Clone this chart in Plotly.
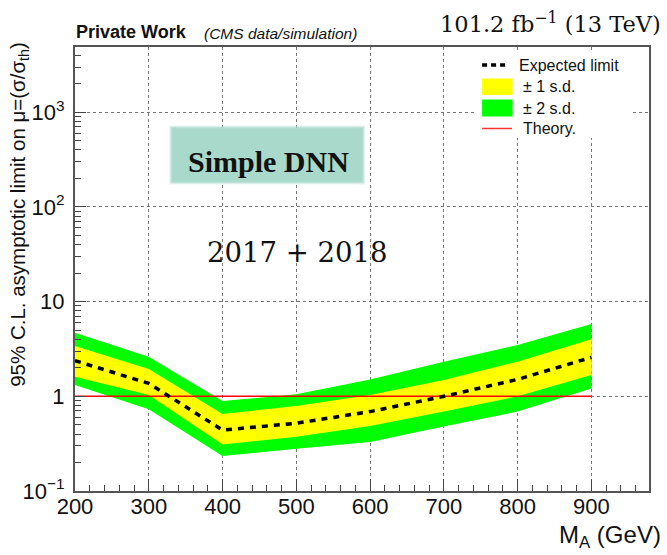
import plotly.graph_objects as go

# Mass points (GeV) and expected limits on mu with +/-1 and +/-2 s.d. bands
mass = [200, 300, 400, 500, 600, 700, 800, 900]
expected = [2.38, 1.37, 0.44, 0.52, 0.69, 1.00, 1.51, 2.58]
plus1 = [3.40, 1.94, 0.65, 0.79, 1.03, 1.49, 2.32, 4.00]
minus1 = [1.61, 1.03, 0.31, 0.375, 0.485, 0.69, 1.00, 1.68]
plus2 = [4.70, 2.62, 0.89, 1.05, 1.51, 2.32, 3.48, 5.80]
minus2 = [1.32, 0.73, 0.234, 0.28, 0.33, 0.48, 0.69, 1.21]
theory = [1.0] * len(mass)

x_ticks = [200, 300, 400, 500, 600, 700, 800, 900]
y_ticks = [0.1, 1, 10, 100, 1000]
y_ticktext = ["10<sup>\u22121</sup>", "1", "10", "10<sup>2</sup>", "10<sup>3</sup>"]
y_minor = [m * 10.0 ** e for e in range(-1, 4) for m in range(2, 10)]

W, H = 667, 555
L, R, T, B = 74.7, 649.0, 47.0, 491.0


def px(x):
    return (x - L) / (R - L)


def py(y):
    return (B - y) / (B - T)


fig = go.Figure()

# +/-2 s.d. band
fig.add_trace(go.Scatter(
    x=mass + mass[::-1], y=plus2 + minus2[::-1], fill="toself",
    fillcolor="#00ff00", line=dict(width=0), mode="lines",
    hoverinfo="skip", showlegend=False))
# +/-1 s.d. band
fig.add_trace(go.Scatter(
    x=mass + mass[::-1], y=plus1 + minus1[::-1], fill="toself",
    fillcolor="#ffff00", line=dict(width=0), mode="lines",
    hoverinfo="skip", showlegend=False))
# Theory reference line
fig.add_trace(go.Scatter(
    x=mass, y=theory, mode="lines", line=dict(color="#ff0000", width=1.5),
    showlegend=False))
# Expected limit
fig.add_trace(go.Scatter(
    x=mass, y=expected, mode="lines",
    line=dict(color="black", width=3.5, dash="6px,6px"),
    showlegend=False))

axis_font = dict(family="Liberation Sans, Arial, sans-serif", size=22, color="#111")

fig.update_xaxes(
    range=[200, 978], tickvals=x_ticks, ticks="inside", ticklen=12,
    tickwidth=1.2, tickcolor="#444", showline=True, linecolor="#555",
    linewidth=2, mirror=True, showgrid=True, gridcolor="#777",
    griddash="dot", gridwidth=1, zeroline=False, tickfont=axis_font,
    ticklabelstandoff=-5,
    minor=dict(ticks="inside", ticklen=6, dtick=20, tickcolor="#444",
               showgrid=False),
)
fig.update_yaxes(
    type="log", range=[-1, 3.69], tickvals=y_ticks, ticktext=y_ticktext,
    ticks="inside", ticklen=11, tickwidth=1.2, tickcolor="#444",
    showline=True, linecolor="#555", linewidth=2, mirror=True,
    showgrid=True, gridcolor="#777", griddash="dot", gridwidth=1,
    zeroline=False, tickfont=axis_font, ticklabelstandoff=4,
    minor=dict(ticks="inside", ticklen=6, tickvals=y_minor,
               tickcolor="#444", showgrid=False),
)

shapes = []
annotations = []

# Legend box
shapes.append(dict(type="rect", xref="paper", yref="paper",
                   x0=px(475), x1=px(632), y0=py(138), y1=py(53),
                   fillcolor="white", line=dict(width=0), layer="above"))
shapes.append(dict(type="line", xref="paper", yref="paper",
                   x0=px(482), x1=px(508), y0=py(65), y1=py(65),
                   line=dict(color="black", width=3.5, dash="5px,4px"),
                   layer="above"))
shapes.append(dict(type="rect", xref="paper", yref="paper",
                   x0=px(482), x1=px(512.5), y0=py(95), y1=py(78.5),
                   fillcolor="#ffff00", line=dict(width=0), layer="above"))
shapes.append(dict(type="rect", xref="paper", yref="paper",
                   x0=px(482), x1=px(512.5), y0=py(116.5), y1=py(99.5),
                   fillcolor="#00ff00", line=dict(width=0), layer="above"))
shapes.append(dict(type="line", xref="paper", yref="paper",
                   x0=px(482), x1=px(512), y0=py(128.5), y1=py(128.5),
                   line=dict(color="#ff3333", width=1.5), layer="above"))

leg_font = dict(family="Liberation Sans, Arial, sans-serif", size=16, color="#111")
for text, xpos, ypos in [("Expected limit", 517, 65), ("\u00b1 1 s.d.", 521, 87),
                         ("\u00b1 2 s.d.", 521, 108), ("Theory.", 521, 128.5)]:
    annotations.append(dict(text=text, xref="paper", yref="paper",
                            x=px(xpos), y=py(ypos), xanchor="left",
                            yanchor="middle", showarrow=False, font=leg_font))

# Soft-edged label box
box = (172, 362, 128.5, 181.5)
for grow, alpha in [(3, 0.25), (2, 0.45), (1, 0.7), (0, 1.0)]:
    shapes.append(dict(type="rect", xref="paper", yref="paper",
                       x0=px(box[0] - grow), x1=px(box[1] + grow),
                       y0=py(box[3] + grow), y1=py(box[2] - grow),
                       fillcolor="#a9d9cb", opacity=alpha,
                       line=dict(width=0), layer="above"))
annotations.append(dict(text="<b>Simple DNN</b>", xref="paper", yref="paper",
                        x=px(268), y=py(161), xanchor="center",
                        yanchor="middle", showarrow=False,
                        font=dict(family="Liberation Serif, serif", size=30,
                                  color="#111")))
annotations.append(dict(text="2017 + 2018", xref="paper", yref="paper",
                        x=px(297), y=py(252), xanchor="center",
                        yanchor="middle", showarrow=False,
                        font=dict(family="DejaVu Serif, serif", size=27.5,
                                  color="#111")))

# Header texts
annotations.append(dict(text="<b>Private Work</b>", xref="paper", yref="paper",
                        x=px(74), y=py(32), xanchor="left", yanchor="middle",
                        showarrow=False,
                        font=dict(family="Liberation Sans, Arial, sans-serif",
                                  size=18, color="#111")))
annotations.append(dict(text="<i>(CMS data/simulation)</i>", xref="paper",
                        yref="paper", x=px(202), y=py(33), xanchor="left",
                        yanchor="middle", showarrow=False,
                        font=dict(family="Liberation Sans, Arial, sans-serif",
                                  size=15.5, color="#111")))
annotations.append(dict(text="101.2 fb<sup>\u22121</sup> (13 TeV)", xref="paper",
                        yref="paper", x=px(663), y=py(22), xanchor="right",
                        yanchor="middle", showarrow=False,
                        font=dict(family="DejaVu Serif, serif", size=22.5,
                                  color="#111")))

# Axis titles
annotations.append(dict(text="M<sub>A</sub> (GeV)", xref="paper", yref="paper",
                        x=px(663), y=py(536), xanchor="right",
                        yanchor="middle", showarrow=False,
                        font=dict(family="Liberation Sans, Arial, sans-serif",
                                  size=24, color="#111")))
annotations.append(dict(text="95% C.L. asymptotic limit on \u03bc=(\u03c3/\u03c3<sub>th</sub>)",
                        xref="paper", yref="paper", x=px(18), y=py(40),
                        xanchor="center", yanchor="top", textangle=-90,
                        showarrow=False,
                        font=dict(family="Liberation Sans, Arial, sans-serif",
                                  size=20.5, color="#111")))

fig.update_layout(
    width=W, height=H, autosize=False,
    margin=dict(l=L, r=W - R, t=T, b=H - B, pad=0),
    plot_bgcolor="white", paper_bgcolor="white",
    showlegend=False, shapes=shapes, annotations=annotations,
)

fig.write_html("out.html", config={"displayModeBar": False})
